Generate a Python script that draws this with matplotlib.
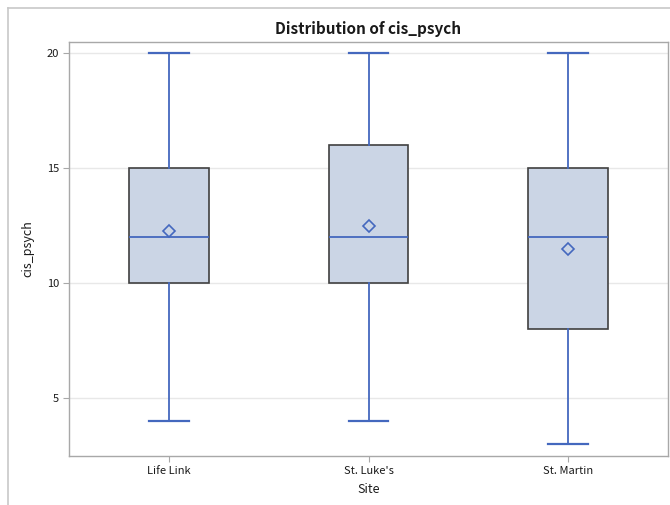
import matplotlib
matplotlib.use("Agg")
import matplotlib.pyplot as plt
from matplotlib.lines import Line2D

plt.rcParams["font.family"] = ["Noto Sans CJK JP", "DejaVu Sans"]

# --- data ---
sites = ["Life Link", "St. Luke's", "St. Martin"]
mins = [4, 4, 3]
q1s = [10, 10, 8]
medians = [12, 12, 12]
q3s = [15, 16, 15]
maxs = [20, 20, 20]
means = [12.25, 12.5, 11.5]
yticks = [5, 10, 15, 20]

BLUE = "#4468BE"
FILL = "#CBD5E5"
EDGE = "#404040"
GRID = "#E8E8E8"
SPINE = "#A8A8A8"
TXT = "#1A1A1A"

fig = plt.figure(figsize=(6.7, 5.05), dpi=100)
ax = fig.add_axes([69 / 670, 1 - 456 / 505, 599 / 670, 414 / 505])

stats = []
for s, lo, a, m, b, hi, mu in zip(sites, mins, q1s, medians, q3s, maxs, means):
    stats.append(dict(label=s, whislo=lo, q1=a, med=m, q3=b, whishi=hi,
                      mean=mu, fliers=[]))

ax.bxp(stats, positions=range(len(sites)), widths=0.4, patch_artist=True,
       showmeans=True, manage_ticks=False,
       boxprops=dict(facecolor=FILL, edgecolor=EDGE, linewidth=1.2),
       medianprops=dict(color=BLUE, linewidth=1.3),
       whiskerprops=dict(color=BLUE, linewidth=1.3),
       capprops=dict(color=BLUE, linewidth=1.6),
       capwidths=0.2,
       meanprops=dict(marker="D", markerfacecolor="none",
                      markeredgecolor=BLUE, markersize=6, markeredgewidth=1.2),
       zorder=3)

ax.set_xlim(-0.5, len(sites) - 0.5)
ax.set_ylim(2.48, 20.48)
ax.set_xticks(range(len(sites)))
ax.set_xticklabels(sites, fontsize=8, color=TXT)
ax.set_yticks(yticks)
ax.set_yticklabels([str(t) for t in yticks], fontsize=8, color=TXT)
ax.tick_params(length=4, color=SPINE, width=0.8, pad=3)
ax.grid(axis="y", color=GRID, lw=1, zorder=0)
ax.set_axisbelow(True)
for sp in ax.spines.values():
    sp.set_color(SPINE)
    sp.set_linewidth(1)

ax.set_xlabel("Site", fontsize=9, color=TXT, labelpad=5)
ax.set_ylabel("cis_psych", fontsize=9, color=TXT, labelpad=9)
ax.set_title("Distribution of cis_psych", fontsize=11, fontweight="bold",
             color=TXT, pad=6)

# outer frame (only left and top edges visible in the reference)
fig.add_artist(Line2D([7.5 / 670, 7.5 / 670], [0, 1 - 8 / 505],
                      color="#C8C8C8", lw=1.2, transform=fig.transFigure))
fig.add_artist(Line2D([7.5 / 670, 1], [1 - 8 / 505, 1 - 8 / 505],
                      color="#C8C8C8", lw=1.2, transform=fig.transFigure))

fig.savefig("out.png", dpi=100, facecolor="white")
